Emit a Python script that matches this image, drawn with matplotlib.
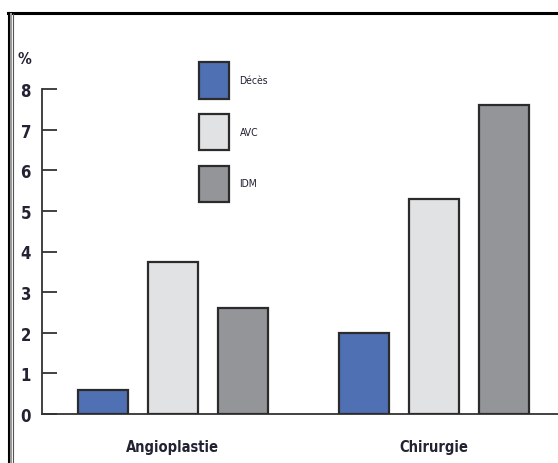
import matplotlib.pyplot as plt
from matplotlib.patches import Patch
from matplotlib.lines import Line2D
import numpy as np

groups = ['Angioplastie', 'Chirurgie']
series = ['Décès', 'AVC', 'IDM']
deces = [0.6, 2.0]
avc = [3.75, 5.3]
idm = [2.6, 7.6]
colors = ['#5070b4', '#e1e2e4', '#939598']
yticks = [0, 1, 2, 3, 4, 5, 6, 7, 8]

FONT = ['Liberation Sans Narrow', 'DejaVu Sans']
W, H = 558, 464
fig = plt.figure(figsize=(W / 100, H / 100), dpi=100)
ax = fig.add_axes([42 / W, 49 / H, 1 - 42 / W, 325 / H])

centers = np.array([0, 3.73])
for i, vals in enumerate([deces, avc, idm]):
    ax.bar(centers + (i - 1), vals, width=0.72, color=colors[i],
           edgecolor='#2b2b2b', linewidth=1.6, zorder=3)

ax.set_xlim(-1.87, 5.5)
ax.set_ylim(0, 8)
ax.set_yticks(yticks)
ax.set_xticks(centers)
ax.set_xticklabels(groups, fontsize=10.5, fontweight='bold', family=FONT,
                   fontstretch='condensed', color='#222233')
ax.tick_params(axis='x', length=0, pad=18)
ax.tick_params(axis='y', direction='in', length=11, width=1.3, color='#333333', pad=8)
for lab in ax.get_yticklabels():
    lab.set_fontsize(12)
    lab.set_fontweight('bold')
    lab.set_family(FONT)
    lab.set_fontstretch('condensed')
    lab.set_color('#222233')
for s in ['top', 'right']:
    ax.spines[s].set_visible(False)
for s in ['left', 'bottom']:
    ax.spines[s].set_color('#333333')
    ax.spines[s].set_linewidth(1.3)

fig.text(18 / W, 1 - 60 / H, '%', fontsize=11, fontweight='bold', family=FONT,
         fontstretch='condensed', color='#222233', ha='left', va='center')

handles = [Patch(facecolor=c, edgecolor='#2b2b2b', linewidth=1.6) for c in colors]
leg = fig.legend(handles, series, loc='upper left', bbox_to_anchor=(199 / W, 1 - 63 / H),
                 frameon=False, borderpad=0, borderaxespad=0,
                 handlelength=2.9, handleheight=5.04, labelspacing=1.45, handletextpad=1.0,
                 prop={'family': FONT, 'size': 7.5, 'stretch': 'condensed'})
for t in leg.get_texts():
    t.set_color('#222233')

# outer frame
fig.add_artist(Line2D([8 / W, 1], [1 - 14 / H, 1 - 14 / H], color='black', lw=2.2))
fig.add_artist(Line2D([9 / W, 9 / W], [0, 1 - 14 / H], color='black', lw=1.5))
fig.add_artist(Line2D([11 / W, 11 / W], [0, 1 - 15 / H], color='#999999', lw=1.5))
fig.add_artist(Line2D([13 / W, 13 / W], [0, 1 - 15 / H], color='#555555', lw=0.8))

fig.savefig('out.png', dpi=100)
